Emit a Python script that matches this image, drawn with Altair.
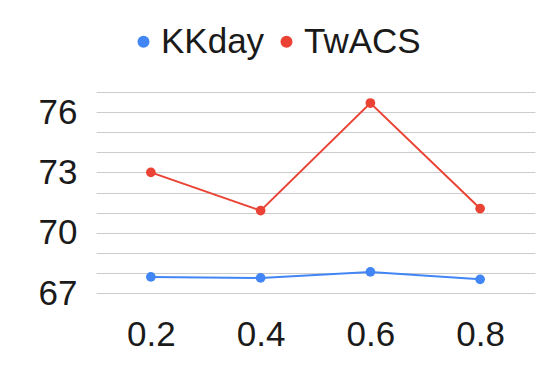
import altair as alt
import pandas as pd

x_labels = ["0.2", "0.4", "0.6", "0.8"]
series_names = ["KKday", "TwACS"]
kkday = [67.8, 67.75, 68.05, 67.68]
twacs = [73.0, 71.1, 76.45, 71.2]
y_ticks = [67, 68, 69, 70, 71, 72, 73, 74, 75, 76, 77]
colors = ["#4285F4", "#EA4335"]

rows = []
for name, vals in zip(series_names, [kkday, twacs]):
    for x, v in zip(x_labels, vals):
        rows.append({"x": x, "value": v, "series": name})
df = pd.DataFrame(rows)

FONT = "Liberation Sans"
FS = 35

legend = alt.Legend(
    title=None, orient="none", legendX=30, legendY=-68, direction="horizontal",
    labelFontSize=FS, labelFont=FONT, labelColor="#1a1a1a", symbolType="circle",
    symbolSize=144, symbolStrokeWidth=0, labelOffset=0, columnPadding=4, padding=0,
    symbolOpacity=1,
)

color = alt.Color("series:N", scale=alt.Scale(domain=series_names, range=colors), legend=legend)

xo = alt.X("x:O", sort=x_labels, scale=alt.Scale(type="point", padding=0.5),
           axis=alt.Axis(title=None, labelAngle=0, domain=False, ticks=False, grid=False,
                         labelFontSize=FS, labelFont=FONT, labelColor="#1a1a1a",
                         labelPadding=24))
yq = alt.Y("value:Q", scale=alt.Scale(domain=[67, 77], nice=False, zero=False),
           axis=alt.Axis(values=y_ticks, title=None, domain=False, ticks=False,
                         labelExpr="(datum.value - 67) % 3 == 0 ? datum.label : ''",
                         labelFontSize=FS, labelFont=FONT, labelColor="#1a1a1a",
                         labelPadding=19, gridColor="#cccccc", gridWidth=1))

lines = alt.Chart(df).mark_line(strokeWidth=2).encode(x=xo, y=yq, color=color)
points = alt.Chart(df).mark_point(filled=True, size=95, opacity=1).encode(x=xo, y=yq, color=color)

chart = alt.layer(lines, points).properties(
    width=439, height=201,
    autosize=alt.AutoSizeParams(type="none"),
    padding={"left": 88, "top": 84, "right": 11, "bottom": 62},
).configure(font=FONT).configure_view(stroke="transparent", strokeWidth=0)

chart.save("out.html", embed_options={"renderer": "svg", "actions": False})
